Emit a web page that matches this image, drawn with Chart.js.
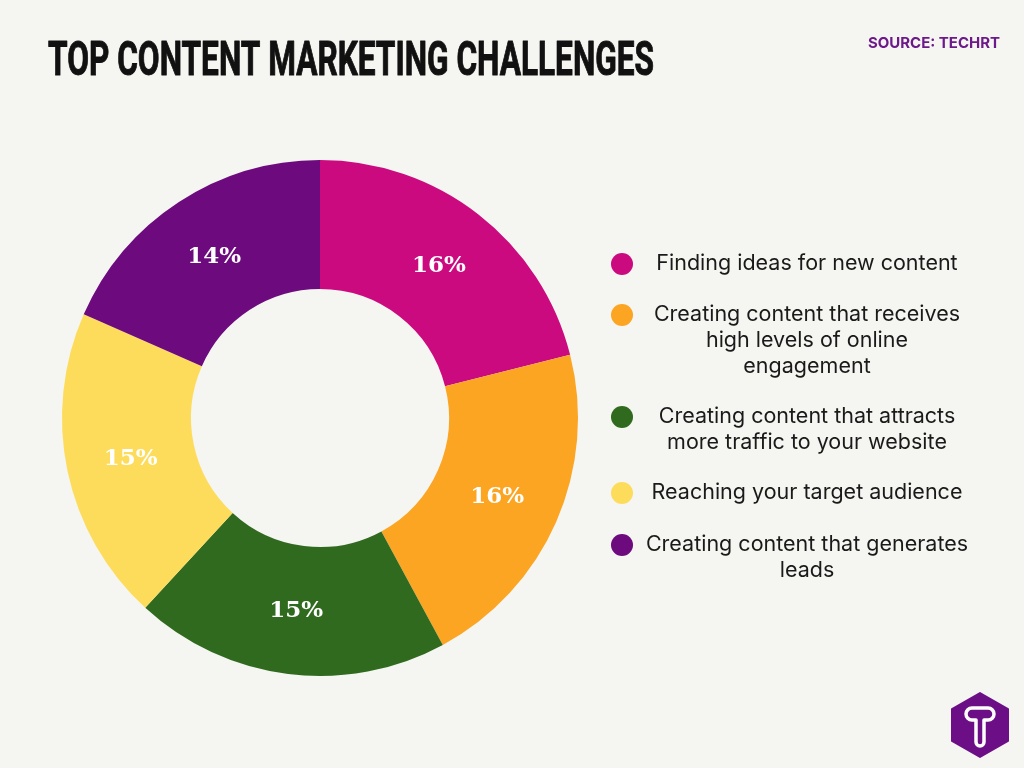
<!DOCTYPE html>
<html>
<head>
<meta charset="utf-8">
<script src="https://cdn.jsdelivr.net/npm/chart.js@4.4.1/dist/chart.umd.min.js"></script>
<style>
  html, body { margin: 0; padding: 0; background: #f5f5f1; }
  #wrap { position: relative; width: 1024px; height: 768px; }
  #logo { position: absolute; left: 950px; top: 692px; }
</style>
</head>
<body>
<div id="wrap">
  <canvas id="challengeChart" width="1024" height="768"></canvas>
  <svg id="logo" width="60" height="66" viewBox="0 0 60 66">
    <polygon points="30,1 58,17 58,49 30,65 2,49 2,17" fill="#6c0f86" stroke="#6c0f86" stroke-width="2" stroke-linejoin="round"/>
    <path d="M16,22 a6,6 0 0 1 6,-6 h16 a6,6 0 0 1 0,12 h-4 v22 a4,4 0 0 1 -8,0 v-22 h-4 a6,6 0 0 1 -6,-6 z"
          fill="none" stroke="#fff" stroke-width="3.5" stroke-linejoin="round"/>
  </svg>
</div>
<script>
const labels = [
  ["Finding ideas for new content"],
  ["Creating content that receives", "high levels of online", "engagement"],
  ["Creating content that attracts", "more traffic to your website"],
  ["Reaching your target audience"],
  ["Creating content that generates", "leads"]
];
const values = [16, 16, 15, 15, 14];
const colors = ["#cc0a7f", "#fba523", "#2f6a1f", "#fddc5c", "#6c0a7e"];
const legendY = [264, 315, 417, 493, 545];

const overlay = {
  id: "overlay",
  afterDraw(chart) {
    const c = chart.ctx;
    c.save();

    // title, squeezed to a condensed look
    c.fillStyle = "#111";
    c.strokeStyle = "#111";
    c.lineWidth = 1;
    c.lineJoin = "round";
    c.font = "bold 49px Roboto";
    c.textBaseline = "alphabetic";
    c.textAlign = "left";
    const title = "TOP CONTENT MARKETING CHALLENGES";
    const tw = c.measureText(title).width;
    c.save();
    c.translate(48, 75);
    c.scale(606 / tw, 1);
    c.fillText(title, 0, 0);
    c.strokeText(title, 0, 0);
    c.restore();

    // source
    c.fillStyle = "#6c1a8a";
    c.font = "bold 15px Inter";
    const src = "SOURCE: TECHRT";
    const sw = c.measureText(src).width;
    c.save();
    c.translate(868, 48);
    c.scale(132 / sw, 1);
    c.fillText(src, 0, 0);
    c.restore();

    // percentage labels
    const meta = chart.getDatasetMeta(0);
    c.fillStyle = "#fff";
    c.font = "bold 23px 'DejaVu Serif'";
    c.textAlign = "center";
    c.textBaseline = "middle";
    meta.data.forEach((arc, i) => {
      const p = arc.tooltipPosition();
      c.fillText(values[i] + "%", p.x, p.y + 1);
    });

    // legend
    c.font = "21.5px Inter";
    labels.forEach((lines, i) => {
      c.fillStyle = colors[i];
      c.beginPath();
      c.arc(622, legendY[i], 11, 0, Math.PI * 2);
      c.fill();
      c.fillStyle = "#1a1a1a";
      lines.forEach((ln, j) => {
        c.fillText(ln, 807, legendY[i] + j * 26);
      });
    });

    c.restore();
  }
};

new Chart(document.getElementById("challengeChart"), {
  type: "doughnut",
  data: {
    labels: labels.map((l) => l.join(" ")),
    datasets: [
      {
        data: values,
        backgroundColor: colors,
        borderWidth: 0,
      },
    ],
  },
  options: {
    responsive: false,
    animation: false,
    cutout: "50%",
    layout: { padding: { left: 62, top: 160, right: 446, bottom: 92 } },
    plugins: {
      legend: { display: false },
      tooltip: { enabled: false },
    },
  },
  plugins: [overlay],
});
</script>
</body>
</html>
